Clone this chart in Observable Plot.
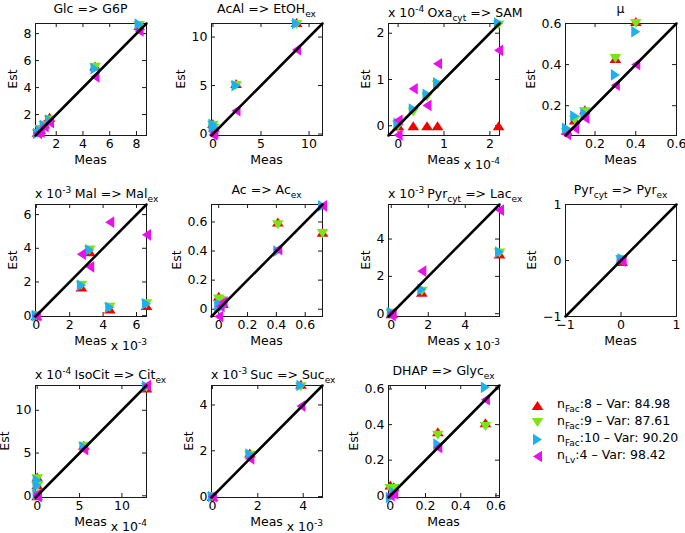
<!DOCTYPE html>
<html>
<head>
<meta charset="utf-8">
<script src="https://cdn.jsdelivr.net/npm/d3@7"></script>
<script src="https://cdn.jsdelivr.net/npm/@observablehq/plot@0.6"></script>
<style>
  html, body { margin: 0; padding: 0; background: #fff; }
  #chart { position: relative; width: 685px; height: 533px; overflow: hidden; background: #fff;
           font-family: "DejaVu Sans", Arial, Helvetica, sans-serif; }
  #chart svg { position: absolute; overflow: visible; }
  #chart text { white-space: pre; }
</style>
</head>
<body>
<div id="chart"></div>
<script>
// ---------------- data ----------------
// title segments: [text, kind] kind 0 = normal, 1 = subscript
const titles = [
  [["Glc => G6P", 0]],
  [["AcAl => EtOH", 0], ["ex", 1]],
  [["Oxa", 0], ["cyt", 1], [" => SAM", 0]],
  [["\u03bc", 0]],
  [["Mal => Mal", 0], ["ex", 1]],
  [["Ac => Ac", 0], ["ex", 1]],
  [["Pyr", 0], ["cyt", 1], [" => Lac", 0], ["ex", 1]],
  [["Pyr", 0], ["cyt", 1], [" => Pyr", 0], ["ex", 1]],
  [["IsoCit => Cit", 0], ["ex", 1]],
  [["Suc => Suc", 0], ["ex", 1]],
  [["DHAP => Glyc", 0], ["ex", 1]]
];
const exponents = [0, 0, -4, 0, -3, 0, -3, 0, -4, -3, 0];
const ticks = [
  [2, 4, 6, 8], [0, 5, 10], [0, 1, 2], [0.2, 0.4, 0.6],
  [0, 2, 4, 6], [0, 0.2, 0.4, 0.6], [0, 2, 4], [-1, 0, 1],
  [0, 5, 10], [0, 2, 4], [0, 0.2, 0.4, 0.6]
];
const limits = [
  [0.45, 8.75], [-0.15, 11.4], [-0.21, 2.21], [0.055, 0.6],
  [-0.05, 6.6], [-0.05, 0.72], [-0.15, 5.85], [-1, 1],
  [-0.2, 12.9], [-0.04, 4.85], [-0.01, 0.62]
];
const meas = [
  [0.6, 0.8, 1.1, 1.5, 4.9, 8.2],
  [0.0, 0.1, 2.4, 8.7],
  [0, 0, 0.33, 0.63, 0.86, 2.19],
  [0.06, 0.10, 0.15, 0.30, 0.40],
  [0, 2.7, 3.2, 4.4, 6.6],
  [0, 0.01, 0.03, 0.41, 0.72],
  [0, 0.05, 1.65, 5.85],
  [0, 0.02],
  [0, 0, 0, 5.5, 12.9],
  [0, 1.65, 3.9],
  [0, 0.02, 0.27, 0.54]
];
const estFac8 = [
  [0.7, 0.9, 1.3, 1.8, 5.6, 8.6],
  [1.1, 0.7, 5.2, 11.5],
  [0, 0, 0, 0, 0, 0],
  [0.08, 0.13, 0.18, 0.43, 0.61],
  [0, 1.7, 3.8, 0.4, 0.6],
  [0.09, 0.07, 0.04, 0.60, 0.53],
  [0, 0.02, 1.15, 3.2],
  [0.01, -0.02],
  [2.2, 1.3, 0, 5.9, 12.6],
  [0, 1.9, 4.9],
  [0.06, 0.05, 0.36, 0.41]
];
const estFac9 = [
  [0.6, 0.9, 1.2, 1.6, 5.5, 8.6],
  [0.9, 0.6, 5.0, 11.3],
  [0, 0.02, 0.30, 0.62, 0.88, 2.18],
  [0.07, 0.13, 0.17, 0.43, 0.60],
  [0, 1.8, 3.9, 0.5, 0.7],
  [0.07, 0.06, 0.03, 0.58, 0.52],
  [0, 0.03, 1.2, 3.25],
  [0.02, 0],
  [2.0, 1.1, 0.1, 5.8, 12.7],
  [0, 1.8, 4.8],
  [0.04, 0.04, 0.34, 0.39]
];
const estFac10 = [
  [0.6, 0.8, 1.2, 1.6, 5.4, 8.7],
  [1.0, 0.7, 5.0, 11.4],
  [0.03, 0.05, 0.36, 0.68, 0.93, 2.22],
  [0.09, 0.15, 0.16, 0.35, 0.56],
  [0, 1.8, 3.9, 0.5, 0.7],
  [0.02, 0.03, 0.02, 0.40, 0.71],
  [0.05, 0.05, 1.3, 3.3],
  [0, 0.03],
  [1.8, 1.2, 0.1, 5.7, 12.8],
  [0, 1.85, 4.85],
  [-0.01, 0.02, 0.29, 0.61]
];
const estLv4 = [
  [0.6, 0.7, 1.1, 1.4, 4.8, 8.2],
  [-0.1, 0.1, 2.4, 8.7],
  [-0.2, 0.12, 0.8, 0.44, 1.34, 1.63],
  [0.06, 0.09, 0.14, 0.30, 0.40],
  [0, 3.65, 2.9, 5.55, 4.8],
  [-0.05, 0.02, 0.05, 0.41, 0.71],
  [-0.1, 0.05, 2.28, 5.55],
  [-0.01, 0.01],
  [0.2, 0, -0.1, 5.4, 12.9],
  [0, 1.65, 3.95],
  [0, 0.01, 0.27, 0.54]
];
const seriesKeys = ["nFac8", "nFac9", "nFac10", "nLv4"];
const seriesColors = ["#f20000", "#78e614", "#1cb0ee", "#ea10ee"];
const legendSub = ["Fac", "Fac", "Fac", "Lv"];
const legendRest = [":8 \u2013 Var: 84.98", ":9 \u2013 Var: 87.61", ":10 \u2013 Var: 90.20", ":4 \u2013 Var: 98.42"];

// ---------------- layout ----------------
const estSeries = [estFac8, estFac9, estFac10, estLv4];
const colX = [35, 211, 388, 565], rowY = [23, 204, 385];
const FW = 111, FH = 112;
const M = {l: 45, r: 12, t: 30, b: 42};
const FONT = '"DejaVu Sans", Arial, Helvetica, sans-serif';
const FS = 12.5;
const INK = "#1a1a1a";
const fmt = d => (d < 0 ? "\u2212" + String(-d) : String(d));

function triSymbol(angleDeg) {
  const a = angleDeg * Math.PI / 180, c = Math.cos(a), s = Math.sin(a);
  return {
    draw(ctx, size) {
      const r = Math.sqrt(size / Math.PI), w = r * 1.3, h = r;
      const pts = [[0, -h], [w, h], [-w, h]].map(([x, y]) => [x * c - y * s, x * s + y * c]);
      ctx.moveTo(pts[0][0], pts[0][1]);
      ctx.lineTo(pts[1][0], pts[1][1]);
      ctx.lineTo(pts[2][0], pts[2][1]);
      ctx.closePath();
    }
  };
}
const symbols = [triSymbol(0), triSymbol(180), triSymbol(90), triSymbol(-90)];

function richText(parent, segs, x, y, anchor, size) {
  const t = parent.append("text").attr("x", x).attr("y", y).attr("text-anchor", anchor)
    .attr("font-size", size).attr("fill", "#000").attr("font-family", FONT);
  let shift = 0;
  for (const [s, k] of segs) {
    const target = k === 1 ? Math.round(size * 0.33) : k === -1 ? -Math.round(size * 0.4) : 0;
    t.append("tspan").attr("dy", target - shift).attr("font-size", k ? size * 0.72 : size).text(s);
    shift = target;
  }
  return t;
}

const chart = document.getElementById("chart");

titles.forEach((title, i) => {
  const col = i % 4, row = Math.floor(i / 4);
  const lim = limits[i], tk = ticks[i], exp = exponents[i];
  const rows = [];
  estSeries.forEach((est, s) => est[i].forEach((v, j) => rows.push({meas: meas[i][j], est: v, s: seriesKeys[s]})));
  const plot = Plot.plot({
    width: FW + M.l + M.r, height: FH + M.t + M.b,
    marginLeft: M.l, marginRight: M.r, marginTop: M.t, marginBottom: M.b,
    style: {background: "transparent", fontFamily: FONT, fontSize: FS + "px", color: "#000", overflow: "visible"},
    x: {domain: lim}, y: {domain: lim},
    marks: [
      Plot.frame({stroke: INK, strokeWidth: 1}),
      Plot.axisX({ticks: tk, tickSize: 0, tickPadding: 4, label: null, tickFormat: fmt}),
      Plot.axisY({ticks: tk, tickSize: 0, tickPadding: 4, label: null, tickFormat: fmt}),
      Plot.tickX(tk, {x: d => d, insetTop: FH - 4, stroke: INK}),
      Plot.tickX(tk, {x: d => d, insetBottom: FH - 4, stroke: INK}),
      Plot.tickY(tk, {y: d => d, insetRight: FW - 4, stroke: INK}),
      Plot.tickY(tk, {y: d => d, insetLeft: FW - 4, stroke: INK}),
      ...seriesKeys.map((k, s) => Plot.dot(rows.filter(d => d.s === k), {
        x: "meas", y: "est", symbol: symbols[s], fill: seriesColors[s], stroke: "none", r: 4.5
      })),
      Plot.line(lim.map(v => ({a: v})), {x: "a", y: "a", stroke: "#000", strokeWidth: 2.5})
    ]
  });
  plot.style.left = (colX[col] - M.l) + "px";
  plot.style.top = (rowY[row] - M.t) + "px";
  chart.appendChild(plot);
  const svg = d3.select(plot);
  const svgRect = plot.getBoundingClientRect();

  // exponent multipliers
  let expRight = -Infinity;
  if (exp) {
    const e = richText(svg, [["x 10", 0], [String(exp), -1]], M.l, M.t - 6, "start", FS);
    expRight = e.node().getBoundingClientRect().right - svgRect.left;
    richText(svg, [["x 10", 0], [String(exp), -1]], M.l + FW + 1, M.t + FH + 34, "end", FS);
  }
  // title (kept clear of the exponent label)
  const tx = M.l + FW / 2 + (exp ? 26 : 0);
  const tt = richText(svg, title, tx, M.t - (exp ? 6 : 10), "middle", FS);
  const tl = tt.node().getBoundingClientRect().left - svgRect.left;
  if (tl < expRight + 3) tt.attr("x", tx + (expRight + 3 - tl));
  // x label
  svg.append("text").attr("x", M.l + FW / 2).attr("y", M.t + FH + 29).attr("text-anchor", "middle")
    .attr("font-size", FS).attr("font-family", FONT).attr("fill", "#000").text("Meas");
  // y label, placed left of the widest tick label
  let minX = M.l - 10;
  plot.querySelectorAll('[aria-label="y-axis tick label"] text').forEach(t => {
    minX = Math.min(minX, t.getBoundingClientRect().left - svgRect.left);
  });
  svg.append("text").attr("transform", `translate(${minX - 11},${M.t + FH / 2}) rotate(-90)`)
    .attr("text-anchor", "middle").attr("dy", "0.35em").attr("font-size", FS)
    .attr("font-family", FONT).attr("fill", "#000").text("Est");
});

// ---------------- legend ----------------
const legend = Plot.plot({
  width: 150, height: 110, margin: 0,
  style: {background: "transparent", overflow: "visible"},
  x: {domain: [0, 1], range: [10, 140]},
  y: {type: "point", domain: seriesKeys, range: [15, 86]},
  axis: null,
  marks: seriesKeys.map((k, s) => Plot.dot([k], {
    x: () => 0, y: d => d, symbol: symbols[s], fill: seriesColors[s], stroke: "none", r: 4.5
  }))
});
legend.style.left = "527px";
legend.style.top = "380px";
chart.appendChild(legend);
const ly = legend.scale("y");
const lsvg = d3.select(legend);
seriesKeys.forEach((k, s) => {
  richText(lsvg, [["n", 0], [legendSub[s], 1], [legendRest[s], 0]], 30, ly.apply(k) + 3, "start", FS);
});
</script>
</body>
</html>
